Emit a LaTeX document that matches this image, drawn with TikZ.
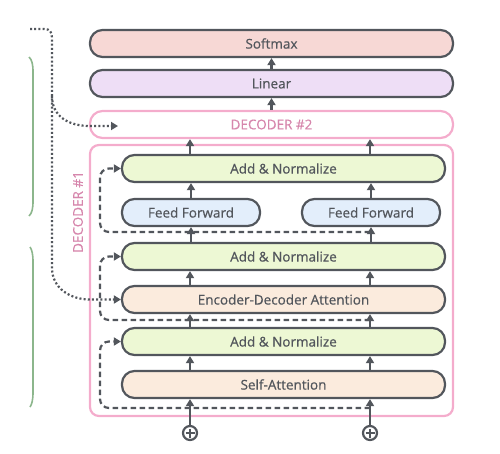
\documentclass[tikz,border=0pt]{standalone}
\usepackage{fontspec}
\setmainfont{Open Sans}
\newfontfamily\boxfont[FakeBold=0.6]{Open Sans}
\usetikzlibrary{arrows.meta,calc}

\definecolor{boxgray}{RGB}{82,86,92}
\definecolor{decpink}{RGB}{244,172,204}
\definecolor{decpinktext}{RGB}{214,134,172}
\definecolor{softmaxfill}{RGB}{247,216,213}
\definecolor{linearfill}{RGB}{238,222,246}
\definecolor{normfill}{RGB}{237,248,212}
\definecolor{fffill}{RGB}{227,238,251}
\definecolor{attnfill}{RGB}{251,235,221}
\definecolor{bracegreen}{RGB}{140,182,140}

\begin{document}
\begin{tikzpicture}[x=1pt, y=-1pt, line width=2.2pt,
    every node/.style={font=\boxfont\fontsize{13.5}{15}\selectfont, text=boxgray},
    layer/.style={draw=boxgray, rounded corners=12.5pt, minimum height=27pt,
                  inner sep=0pt},
    wide/.style={layer, minimum width=363pt},
    sub/.style={layer, minimum width=323pt},
    half/.style={layer, minimum width=138pt},
    decbox/.style={draw=decpink, inner sep=0pt, text=decpinktext},
    declabel/.style={text=decpinktext, inner sep=0pt},
    plus/.style={circle, draw=boxgray, minimum size=14pt, inner sep=0pt},
    uparrow/.style={draw=boxgray, -{Triangle[length=7pt,width=8pt]}},
    resid/.style={draw=boxgray, dash pattern=on 5.5pt off 3.5pt, rounded corners=9pt,
                  -{Triangle[length=7pt,width=8pt]}},
    xattn/.style={draw=boxgray, dash pattern=on 2pt off 2.2pt,
                  -{Triangle[length=7pt,width=8pt]}}]
  \useasboundingbox (0,0) rectangle (500,453);

  % decoder stack
  \node[decbox, rounded corners=9pt, minimum width=363pt, minimum height=271pt]
      (dec1) at (271.5,280.5) {};
  \node[declabel, rotate=90] (dec1label) at (78,212) {DECODER \#1};
  \node[decbox, rounded corners=12.5pt, minimum width=363pt, minimum height=27pt]
      (dec2) at (271.5,124.5) {DECODER \#2};

  \node[wide, fill=softmaxfill] (softmax) at (271.5,43.5) {Softmax};
  \node[wide, fill=linearfill] (linear) at (271.5,83.5) {Linear};

  \node[sub, fill=normfill] (norm1) at (283.5,168.5) {Add \& Normalize};
  \node[half, fill=fffill] (ffa) at (191,212.5) {Feed Forward};
  \node[half, fill=fffill] (ffb) at (371,212.5) {Feed Forward};
  \node[sub, fill=normfill] (norm2) at (283.5,256.5) {Add \& Normalize};
  \node[sub, fill=attnfill] (encdec) at (283.5,299.5) {Encoder-Decoder Attention};
  \node[sub, fill=normfill] (norm3) at (283.5,341.5) {Add \& Normalize};
  \node[sub, fill=attnfill] (selfattn) at (283.5,384.5) {Self-Attention};

  \node[plus] (pa) at (190,433) {};
  \node[plus] (pb) at (370,433) {};
  \foreach \p in {pa,pb}
    \draw[boxgray, line width=1.6pt] ($(\p)+(-4.5,0)$) -- ($(\p)+(4.5,0)$)
                                     ($(\p)+(0,-4.5)$) -- ($(\p)+(0,4.5)$);

  % upward flow
  \foreach \x/\p in {190/pa,370/pb} {
    \draw[uparrow] (\p) -- (selfattn.south -| \p);
    \draw[uparrow] (selfattn.north -| \p) -- (norm3.south -| \p);
    \draw[uparrow] (norm3.north -| \p) -- (encdec.south -| \p);
    \draw[uparrow] (encdec.north -| \p) -- (norm2.south -| \p);
    \draw[uparrow] (norm1.north -| \p) -- (dec2.south -| \p);
  }
  \draw[uparrow] (norm2.north -| ffa.south) -- (ffa.south);
  \draw[uparrow] (norm2.north -| ffb.south) -- (ffb.south);
  \draw[uparrow] (ffa.north) -- (norm1.south -| ffa.north);
  \draw[uparrow] (ffb.north) -- (norm1.south -| ffb.north);
  \draw[uparrow] (dec2.north) -- (linear.south);
  \draw[uparrow] (linear.north) -- (softmax.south);

  % residual connections
  \coordinate (res1) at (370,408);
  \coordinate (res2) at (370,320);
  \coordinate (res3) at (370,232);
  \draw[resid] (res1) -| (100,341.5) -- (norm3.west);
  \draw[resid] (res2) -| (100,256.5) -- (norm2.west);
  \draw[resid] (res3) -| (100,168.5) -- (norm1.west);

  % encoder output
  \coordinate (encout) at (30,29);
  \coordinate (dec2in) at (118,126);
  \draw[xattn] (encout) -- (44,29) .. controls (50,29) and (52,32) .. (52,38)
               -- (52,268) .. controls (52,288) and (70,299.5) .. (90,299.5)
               -- (encdec.west);
  \draw[xattn] (52,96) .. controls (52,116) and (68,126) .. (90,126) -- (dec2in);

  % braces
  \draw[bracegreen, line width=1.6pt] (29,57) .. controls (32,60) and (33,64) .. (33,72)
       -- (33,201) .. controls (33,209) and (32,213) .. (29,216);
  \draw[bracegreen, line width=1.6pt] (30,247) .. controls (32,250) and (33,254) .. (33,262)
       -- (33,392) .. controls (33,400) and (32,404) .. (30,407);
\end{tikzpicture}
\end{document}
